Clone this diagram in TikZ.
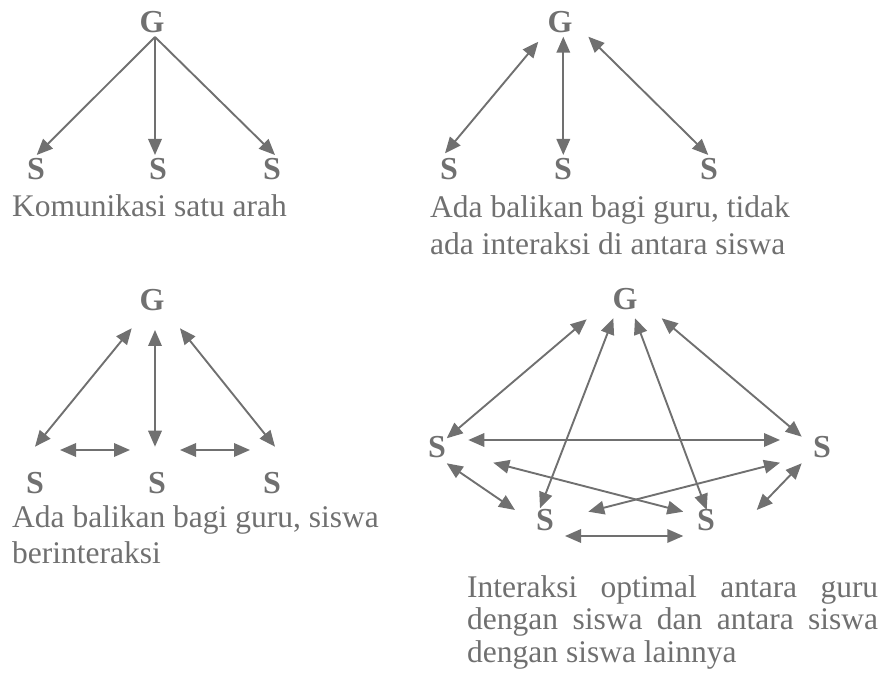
\documentclass[tikz,border=0pt]{standalone}
\usepackage{fontspec}
\setmainfont{Liberation Serif}
\usetikzlibrary{arrows.meta}

\definecolor{inkgray}{RGB}{112,112,112}
\definecolor{linegray}{RGB}{112,112,112}

\begin{document}
\begin{tikzpicture}[x=1pt,y=-1pt,
  role/.style={font=\fontsize{32}{32}\selectfont\bfseries, text=inkgray,
               inner sep=0pt, anchor=base},
  caption/.style={font=\fontsize{31.5}{36}\selectfont, text=inkgray,
                  inner sep=0pt, anchor=base west},
  oneway/.style={draw=linegray, line width=1.9pt, -{Triangle[length=16pt,width=13.5pt]}},
  twoway/.style={draw=linegray, line width=1.9pt,
                 {Triangle[length=16pt,width=13.5pt]}-{Triangle[length=16pt,width=13.5pt]}},
]
\useasboundingbox (0,0) rectangle (881,684);

% ---------- one-way communication ----------
\node[role] (g1)  at (152,33)  {G};
\node[role] (s1a) at (36,180)  {S};
\node[role] (s1b) at (158,180) {S};
\node[role] (s1c) at (272,180) {S};
\coordinate (g1o) at (155,37);
\coordinate (s1at) at (36.7,155);
\coordinate (s1bt) at (155,155);
\coordinate (s1ct) at (275,155);
\draw[oneway] (g1o) -- (s1at);
\draw[oneway] (g1o) -- (s1bt);
\draw[oneway] (g1o) -- (s1ct);
\node[caption] (c1) at (12,217) {Komunikasi satu arah};

% ---------- feedback to the teacher ----------
\node[role] (g2)  at (560,33)  {G};
\node[role] (s2a) at (449,180) {S};
\node[role] (s2b) at (563,180) {S};
\node[role] (s2c) at (709,180) {S};
\coordinate (g2a) at (538.3,41.7);  \coordinate (s2at) at (445,153.3);
\coordinate (g2b) at (563.3,36.7);  \coordinate (s2bt) at (563.3,155);
\coordinate (g2c) at (588.3,36.7);  \coordinate (s2ct) at (708.3,155);
\draw[twoway] (g2a) -- (s2at);
\draw[twoway] (g2b) -- (s2bt);
\draw[twoway] (g2c) -- (s2ct);
\node[caption] (c2a) at (430,218) {Ada balikan bagi guru, tidak};
\node[caption] (c2b) at (430,255) {ada interaksi di antara siswa};

% ---------- feedback and student interaction ----------
\node[role] (g3)  at (152,311) {G};
\node[role] (s3a) at (35,493)  {S};
\node[role] (s3b) at (157,493) {S};
\node[role] (s3c) at (272,493) {S};
\coordinate (g3a) at (131.7,328.3); \coordinate (s3at) at (35,446.7);
\coordinate (g3b) at (155,330);     \coordinate (s3bt) at (155,446.7);
\coordinate (g3c) at (180,328.3);   \coordinate (s3ct) at (275,446.7);
\coordinate (s3ar) at (60,450);     \coordinate (s3bl) at (130,450);
\coordinate (s3br) at (180,450);    \coordinate (s3cl) at (250,450);
\draw[twoway] (g3a) -- (s3at);
\draw[twoway] (g3b) -- (s3bt);
\draw[twoway] (g3c) -- (s3ct);
\draw[twoway] (s3ar) -- (s3bl);
\draw[twoway] (s3br) -- (s3cl);
\node[caption] (c3a) at (12,527) {Ada balikan bagi guru, siswa};
\node[caption] (c3b) at (12,563) {berinteraksi};

% ---------- optimal interaction ----------
\node[role] (g4)   at (625,310) {G};
\node[role] (s4l)  at (437,457) {S};
\node[role] (s4r)  at (822,457) {S};
\node[role] (s4bl) at (545,530) {S};
\node[role] (s4br) at (706,530) {S};
% teacher -- students
\coordinate (g4a) at (586.7,319.3); \coordinate (s4la) at (446.7,438.3);
\coordinate (g4b) at (613.3,318.3); \coordinate (s4bla) at (540,508.3);
\coordinate (g4c) at (635,318.3);   \coordinate (s4bra) at (706.7,510);
\coordinate (g4d) at (661.7,318.3); \coordinate (s4ra) at (801.7,436.7);
\draw[twoway] (g4a) -- (s4la);
\draw[twoway] (g4b) -- (s4bla);
\draw[twoway] (g4c) -- (s4bra);
\draw[twoway] (g4d) -- (s4ra);
% student -- student
\coordinate (s4lh) at (468.3,440);   \coordinate (s4rh) at (780,440);
\coordinate (s4ld) at (446.7,463.3); \coordinate (s4blu) at (515,510);
\coordinate (s4lx) at (493.3,462.7); \coordinate (s4brx) at (683.3,511.7);
\coordinate (s4blx) at (588.3,511.7);\coordinate (s4rx) at (780,462.7);
\coordinate (s4rd) at (801.7,463.3); \coordinate (s4bru) at (756.7,510);
\coordinate (s4blh) at (565,536);    \coordinate (s4brh) at (683.3,536);
\draw[twoway] (s4lh) -- (s4rh);
\draw[twoway] (s4ld) -- (s4blu);
\draw[twoway] (s4lx) -- (s4brx);
\draw[twoway] (s4blx) -- (s4rx);
\draw[twoway] (s4rd) -- (s4bru);
\draw[twoway] (s4blh) -- (s4brh);
\node[caption] (c4a) at (467,597) {\makebox[411pt][s]{Interaksi optimal antara guru}};
\node[caption] (c4b) at (467,629) {\makebox[411pt][s]{dengan siswa dan antara siswa}};
\node[caption] (c4c) at (467,662) {dengan siswa lainnya};
\end{tikzpicture}
\end{document}
